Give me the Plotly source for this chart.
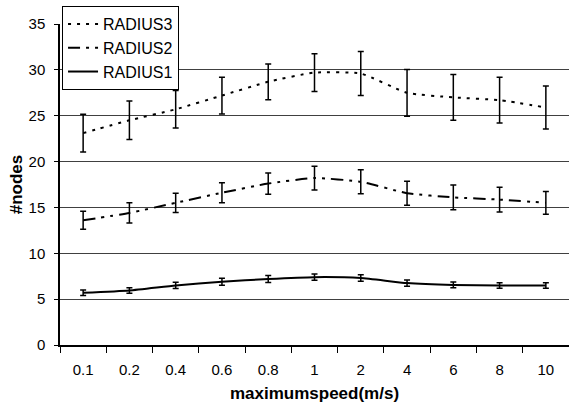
import plotly.graph_objects as go

speeds = ["0.1", "0.2", "0.4", "0.6", "0.8", "1", "2", "4", "6", "8", "10"]

radius3 = [23.1, 24.5, 25.7, 27.2, 28.7, 29.7, 29.6, 27.5, 27.0, 26.7, 25.9]
radius3_err = [2.05, 2.1, 2.05, 2.0, 1.95, 2.05, 2.4, 2.55, 2.5, 2.5, 2.35]

radius2 = [13.6, 14.4, 15.5, 16.6, 17.6, 18.2, 17.8, 16.55, 16.1, 15.85, 15.5]
radius2_err = [0.98, 1.1, 1.05, 1.1, 1.15, 1.3, 1.3, 1.3, 1.35, 1.35, 1.25]

radius1 = [5.7, 5.95, 6.5, 6.9, 7.2, 7.4, 7.3, 6.75, 6.55, 6.5, 6.5]
radius1_err = [0.3, 0.3, 0.33, 0.38, 0.38, 0.35, 0.35, 0.35, 0.32, 0.3, 0.3]

series = [
    ("RADIUS3", radius3, radius3_err, "3px,6px"),
    ("RADIUS2", radius2, radius2_err, "12px,6px,3px,6px,3px,6px"),
    ("RADIUS1", radius1, radius1_err, "solid"),
]

fig = go.Figure()
for name, vals, errs, dash in series:
    fig.add_trace(go.Scatter(
        x=speeds, y=vals, name=name, mode="lines",
        line=dict(color="black", width=2, dash=dash, shape="spline", smoothing=0.5),
        error_y=dict(type="data", array=errs, visible=True, color="black",
                     thickness=1.5, width=3),
    ))

font_family = "Liberation Sans, Arial, sans-serif"

fig.update_layout(
    width=569, height=403,
    margin=dict(l=60, r=0, t=24, b=58, pad=0, autoexpand=False),
    paper_bgcolor="white", plot_bgcolor="white",
    font=dict(family=font_family, size=15, color="black"),
    showlegend=True,
    legend=dict(
        x=0.004, y=1.056, xanchor="left", yanchor="top",
        bgcolor="white", bordercolor="black", borderwidth=1,
        font=dict(size=16, family=font_family, color="black"),
        tracegroupgap=0, itemwidth=30,
    ),
    xaxis=dict(
        type="category", categoryorder="array", categoryarray=speeds,
        range=[-0.5, 10.5], automargin=False,
        showline=True, linecolor="black", linewidth=1.5,
        ticks="outside", tickson="boundaries", ticklen=6, tickcolor="black",
        showgrid=False, zeroline=False,
        tickfont=dict(size=15),
        ticklabelstandoff=10,
        title=dict(text="<b>maximumspeed(m/s)</b>", font=dict(size=17), standoff=10),
    ),
    yaxis=dict(
        range=[0, 35], tickvals=[0, 5, 10, 15, 20, 25, 30, 35], automargin=False,
        showline=True, linecolor="black", linewidth=1.5,
        ticks="outside", ticklen=4, tickcolor="black",
        showgrid=True, gridcolor="#404040", gridwidth=1,
        zeroline=False,
        tickfont=dict(size=15),
        ticklabelstandoff=6,
        title=dict(text="<b>#nodes</b>", font=dict(size=17), standoff=2),
    ),
)

fig.write_html("out.html", config={"displayModeBar": False},
               post_script="document.body.style.margin='0';")
